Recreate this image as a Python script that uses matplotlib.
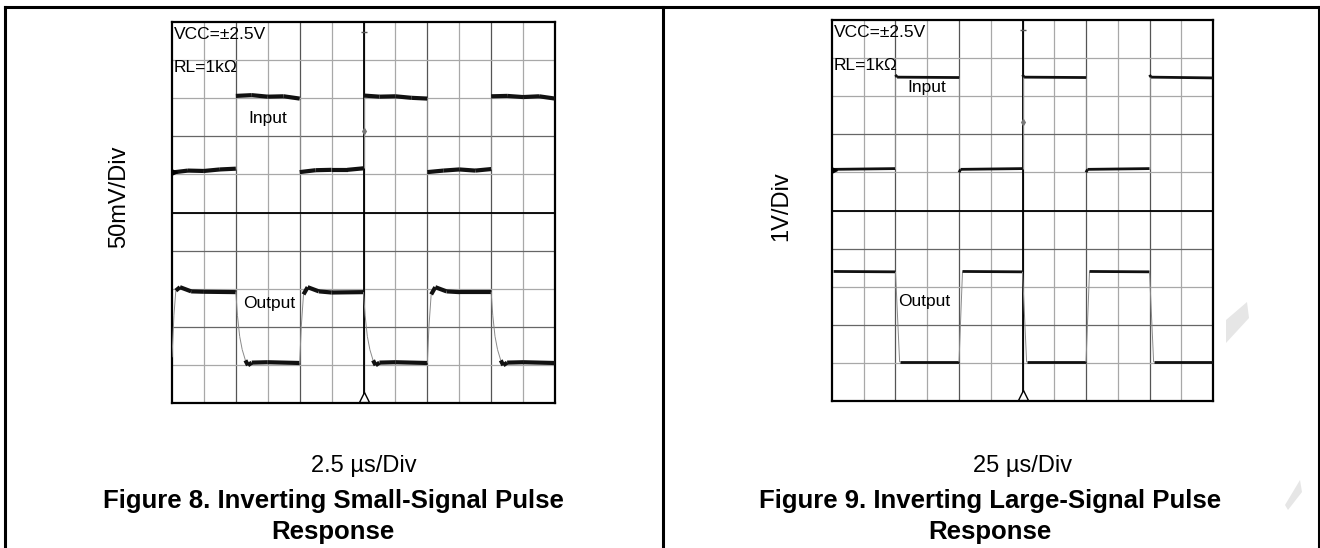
import numpy as np
import matplotlib.pyplot as plt
from matplotlib.collections import LineCollection
from matplotlib.patches import Polygon

plt.rcParams['font.family'] = ['Liberation Sans', 'DejaVu Sans']

W, H = 1320, 548

# --- DATA (scope divisions; 12 x 10 grid) ---
# Figure 8: small-signal pulse, 2.5 us/div, 50 mV/div
SS_IN_X = [0, 0.5, 1.0, 1.5, 2,
           2, 2.5, 3.0, 3.5, 4,
           4, 4.5, 5.0, 5.5, 6,
           6, 6.5, 7.0, 7.5, 8,
           8, 8.5, 9.0, 9.5, 10,
           10, 10.5, 11.0, 11.5, 12]
SS_IN_Y = [6.05, 6.1, 6.09, 6.13, 6.15,
           8.06, 8.08, 8.04, 8.05, 7.99,
           6.06, 6.11, 6.12, 6.12, 6.16,
           8.07, 8.04, 8.05, 8.01, 7.99,
           6.06, 6.1, 6.13, 6.1, 6.14,
           8.05, 8.06, 8.03, 8.05, 7.99]
SS_OUT_X = [0.0, 0.06, 0.12, 0.25, 0.6, 1.0, 2.0, 2.05, 2.12, 2.2, 2.3, 2.38, 2.5, 3.0,
            4.0, 4.05, 4.12, 4.25, 4.6, 5.0, 6.0, 6.05, 6.12, 6.2, 6.3, 6.38, 6.5, 7.0,
            8.0, 8.05, 8.12, 8.25, 8.6, 9.0, 10.0, 10.05, 10.12, 10.2, 10.3, 10.38, 10.5, 11.0, 12.0]
SS_OUT_Y = [1.2, 2.3, 2.95, 3.04, 2.93, 2.92, 2.91, 2.3, 1.75, 1.4, 1.12, 0.99, 1.06, 1.07,
            1.05, 2.0, 2.85, 3.04, 2.93, 2.9, 2.91, 2.3, 1.75, 1.4, 1.12, 0.99, 1.06, 1.07,
            1.05, 2.0, 2.85, 3.04, 2.93, 2.91, 2.91, 2.3, 1.75, 1.4, 1.12, 0.99, 1.06, 1.07, 1.05]

# Figure 9: large-signal pulse, 25 us/div, 1 V/div
LS_IN_X = [0, 0.05, 2, 2, 2.05, 4, 4, 4.05, 6, 6, 6.05, 8, 8, 8.05, 10, 10, 10.05, 12]
LS_IN_Y = [6.0, 6.08, 6.1, 8.56, 8.5, 8.49, 6.0, 6.08, 6.1,
           8.56, 8.5, 8.49, 6.0, 6.08, 6.1, 8.56, 8.5, 8.48]
LS_OUT_X = [0.05, 2.0, 2.13, 4.0, 4.11, 6.0, 6.13, 8.0, 8.11, 10.0, 10.13, 12.0]
LS_OUT_Y = [3.4, 3.39, 1.02, 1.02, 3.4, 3.39, 1.02, 1.02, 3.4, 3.39, 1.02, 1.02]

PANELS = [
    {"ax_px": (172, 22, 555, 403), "ylabel": "50mV/Div", "xlabel": "2.5 µs/Div",
     "ylab_px": (119, 197), "cap": ["Figure 8. Inverting Small-Signal Pulse", "Response"],
     "cap_x": 333, "in": (SS_IN_X, SS_IN_Y), "out": (SS_OUT_X, SS_OUT_Y), "lw": 3.0,
     "in_lbl": (3.0, 7.48), "out_lbl": (3.03, 2.62), "diamond": 7.14},
    {"ax_px": (832, 20, 1213, 401), "ylabel": "1V/Div", "xlabel": "25 µs/Div",
     "ylab_px": (781, 206), "cap": ["Figure 9. Inverting Large-Signal Pulse", "Response"],
     "cap_x": 990, "in": (LS_IN_X, LS_IN_Y), "out": (LS_OUT_X, LS_OUT_Y), "lw": 2.0,
     "in_lbl": (2.98, 8.22), "out_lbl": (2.9, 2.62), "diamond": 7.32},
]


def fx(px):
    return px / W


def fy(py):
    return 1 - py / H


def draw_trace(ax, xs, ys, lw):
    # flat parts drawn as thick trace, steep edges as thin grey
    pts = np.column_stack([xs, ys])
    segs = np.stack([pts[:-1], pts[1:]], axis=1)
    dx = np.diff(xs)
    dy = np.diff(ys)
    steep = np.abs(dy) > 2.0 * np.maximum(np.abs(dx), 1e-9)
    widths = np.where(steep, 0.7, lw)
    colors = ['#8a8a8a' if s else '#111111' for s in steep]
    lc = LineCollection(segs, linewidths=widths, colors=colors, capstyle='butt',
                        joinstyle='round', zorder=5)
    ax.add_collection(lc)


def draw_scope(fig, p):
    x0, y0, x1, y1 = p["ax_px"]
    ax = fig.add_axes([fx(x0), fy(y1), (x1 - x0) / W, (y1 - y0) / H])
    ax.set_xlim(0, 12)
    ax.set_ylim(0, 10)
    ax.set_xticks([])
    ax.set_yticks([])
    for s in ax.spines.values():
        s.set_linewidth(1.6)

    for i in range(1, 12):
        c = '#555555' if i % 2 == 0 else '#a8a8a8'
        ax.axvline(i, color=c, lw=0.9, zorder=1)
    for j in range(1, 10):
        c = '#666666' if j in (2, 4, 7) else '#a8a8a8'
        ax.axhline(j, color=c, lw=0.9, zorder=1)
    ax.axvline(6, color='black', lw=1.3, zorder=2)
    ax.axhline(5, color='black', lw=1.3, zorder=2)

    draw_trace(ax, *p["in"], p["lw"])
    draw_trace(ax, *p["out"], p["lw"])

    # scope markers
    ax.plot(6, 0.16, marker='^', ms=7, mfc='white', mec='black', mew=1.0, clip_on=False, zorder=6)
    ax.plot(6, p["diamond"], marker='d', ms=3, color='#777777', zorder=6)
    ax.plot(6, 9.75, marker='_', ms=4, color='#555555', zorder=6)
    ax.plot(0.05, 6.06, marker='>', ms=4, color='black', zorder=6)

    ax.text(0.06, 9.68, "VCC=±2.5V", fontsize=12.5, va='center', ha='left', zorder=7)
    ax.text(0.06, 8.8, "RL=1kΩ", fontsize=12.5, va='center', ha='left', zorder=7)
    ax.text(*p["in_lbl"], "Input", fontsize=12.5, va='center', ha='center', zorder=7)
    ax.text(*p["out_lbl"], "Output", fontsize=12.5, va='center', ha='center', zorder=7)

    cx = (x0 + x1) / 2
    fig.text(fx(p["ylab_px"][0]), fy(p["ylab_px"][1]), p["ylabel"], rotation=90,
             fontsize=17, ha='center', va='center')
    fig.text(fx(cx), fy(466), p["xlabel"], fontsize=17, ha='center', va='center')
    fig.text(fx(p["cap_x"]), fy(501), p["cap"][0], fontsize=18.5, fontweight='bold',
             ha='center', va='center')
    fig.text(fx(p["cap_x"]), fy(532), p["cap"][1], fontsize=18.5, fontweight='bold',
             ha='center', va='center')
    return ax


fig = plt.figure(figsize=(W / 100, H / 100), dpi=100)

for p in PANELS:
    draw_scope(fig, p)

# table frame
frame = dict(color='black', lw=2.2, transform=fig.transFigure)
fig.add_artist(plt.Line2D([fx(5), fx(1319)], [fy(7), fy(7)], **frame))
for xp in (5, 663, 1319):
    fig.add_artist(plt.Line2D([fx(xp), fx(xp)], [fy(7), fy(548)], **frame))

# faint watermark pieces
for poly in ([(1226, 320), (1247, 302), (1249, 318), (1226, 343)],
             [(1285, 505), (1300, 480), (1302, 492), (1288, 510)]):
    fig.add_artist(Polygon([(fx(a), fy(b)) for a, b in poly], closed=True,
                           transform=fig.transFigure, facecolor='#e6e6e6', edgecolor='none'))

fig.savefig("out.png", dpi=100)
